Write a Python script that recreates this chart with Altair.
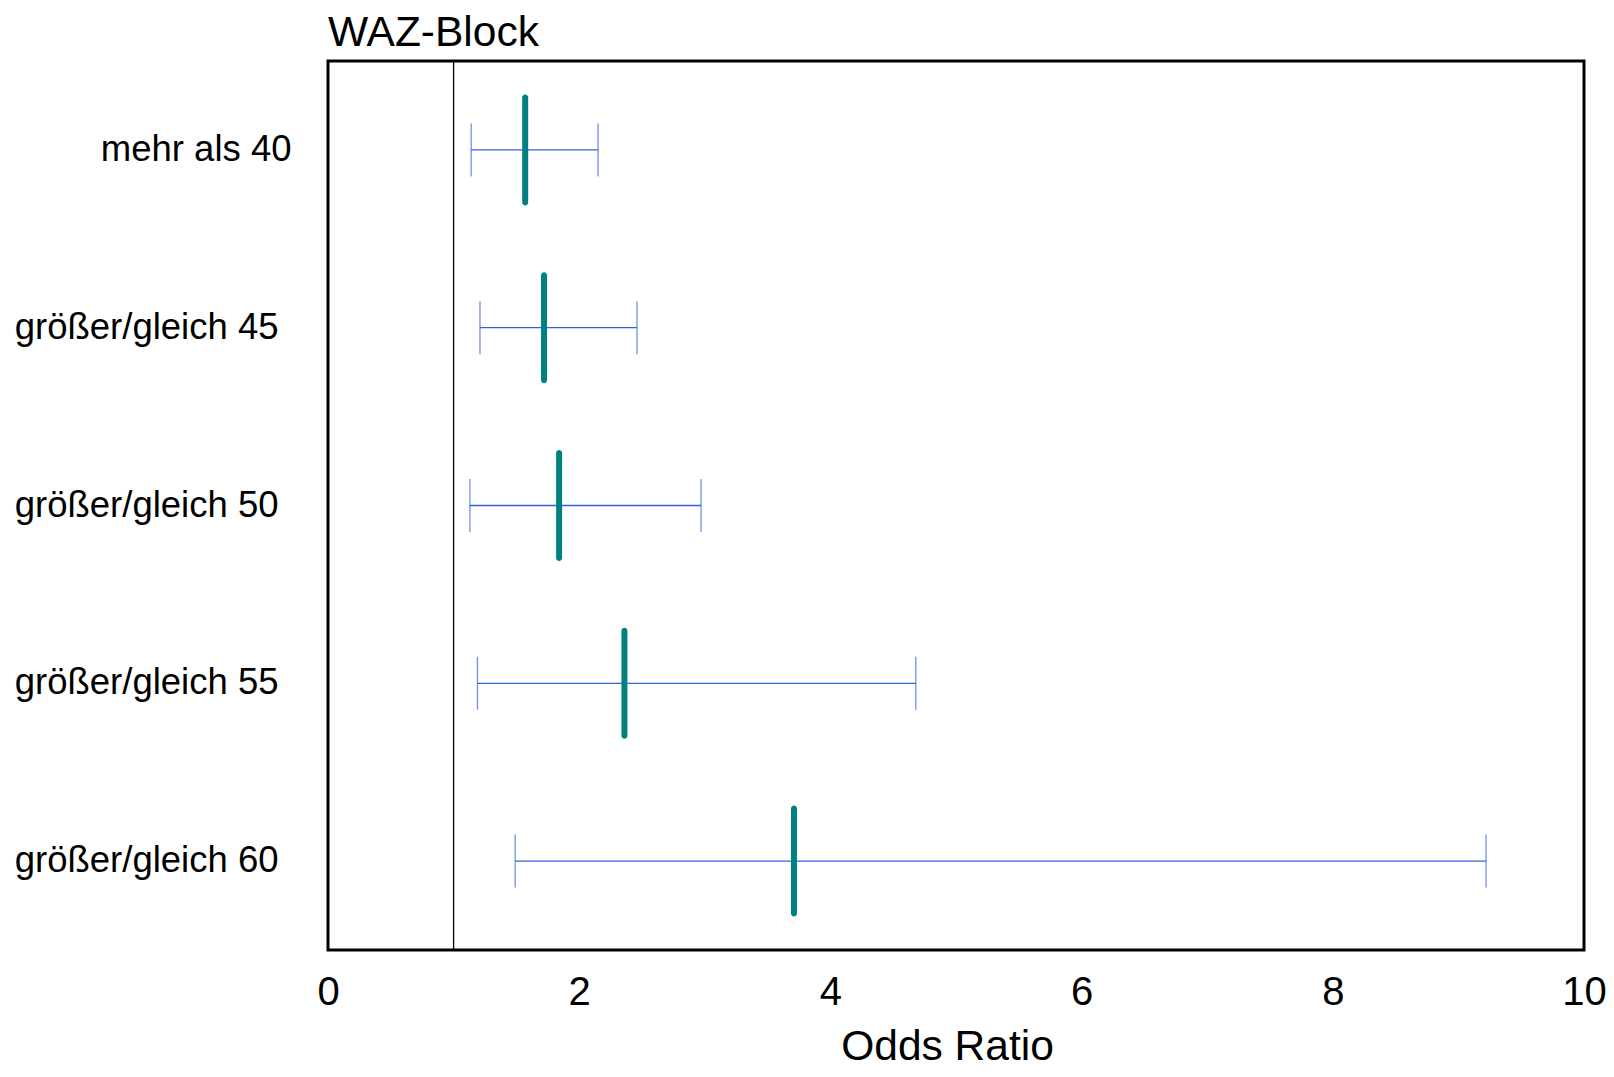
import altair as alt
import pandas as pd

categories = ["mehr als 40", "größer/gleich 45", "größer/gleich 50", "größer/gleich 55", "größer/gleich 60"]
odds_ratio = [1.57, 1.72, 1.84, 2.36, 3.71]
ci_lower = [1.14, 1.21, 1.13, 1.19, 1.49]
ci_upper = [2.15, 2.46, 2.97, 4.68, 9.22]
x_ticks = [0, 2, 4, 6, 8, 10]
reference_value = [1]

df = pd.DataFrame({"group": categories, "or": odds_ratio, "lo": ci_lower, "hi": ci_upper})
ref_df = pd.DataFrame({"ref": reference_value})

FONT = "Liberation Sans"
BLUE = "#3461DB"
TEAL = "#008080"

xscale = alt.Scale(domain=[0, 10], nice=False, zero=True)
yscale = alt.Scale(domain=categories, paddingInner=0, paddingOuter=0)

x_axis = alt.Axis(
    title="Odds Ratio", values=x_ticks, format="d", grid=False, ticks=False, tickSize=0, domain=False,
    labelFont=FONT, labelFontSize=40, labelColor="black", labelPadding=22, labelFlush=False,
    titleFont=FONT, titleFontSize=42.5, titleFontWeight="normal", titleColor="black", titlePadding=13,
    titleX=619, titleAlign="center",
)
y_axis = alt.Axis(
    title=None, grid=False, ticks=False, tickSize=0, domain=False,
    labelFont=FONT, labelFontSize=36.5, labelColor="black", labelAlign="right", labelBaseline="middle",
    labelPadding={"condition": {"test": "datum.value == 'mehr als 40'", "value": 37}, "value": 50},
    labelLimit=400,
)

base = alt.Chart(df)

whisker = base.mark_rule(color=BLUE, strokeWidth=1.3).encode(
    x=alt.X("lo:Q", scale=xscale, axis=x_axis),
    x2="hi:Q",
    y=alt.Y("group:N", scale=yscale, sort=categories, axis=y_axis),
)
cap_lo = base.mark_tick(color=BLUE, size=53, thickness=1.3).encode(
    x=alt.X("lo:Q", scale=xscale), y=alt.Y("group:N", scale=yscale, sort=categories)
)
cap_hi = base.mark_tick(color=BLUE, size=53, thickness=1.3).encode(
    x=alt.X("hi:Q", scale=xscale), y=alt.Y("group:N", scale=yscale, sort=categories)
)
point = base.mark_tick(color=TEAL, size=111, thickness=6, cornerRadius=3, opacity=1).encode(
    x=alt.X("or:Q", scale=xscale), y=alt.Y("group:N", scale=yscale, sort=categories)
)
ref = alt.Chart(ref_df).mark_rule(color="black", strokeWidth=1.3).encode(
    x=alt.X("ref:Q", scale=xscale)
)

chart = (
    alt.layer(ref, whisker, cap_lo, cap_hi, point)
    .properties(
        width=1256,
        height=889,
        autosize=alt.AutoSizeParams(type="none"),
        padding={"left": 320, "top": 53, "right": 22, "bottom": 119},
        title=alt.TitleParams(
            "WAZ-Block", anchor="start", font=FONT, fontSize=42.5, fontWeight="normal",
            color="black", offset=6, frame="group",
        ),
    )
    .configure(background="white")
    .configure_view(stroke="black", strokeWidth=3)
)

chart.save("out.html", embed_options={"renderer": "svg", "actions": False})
